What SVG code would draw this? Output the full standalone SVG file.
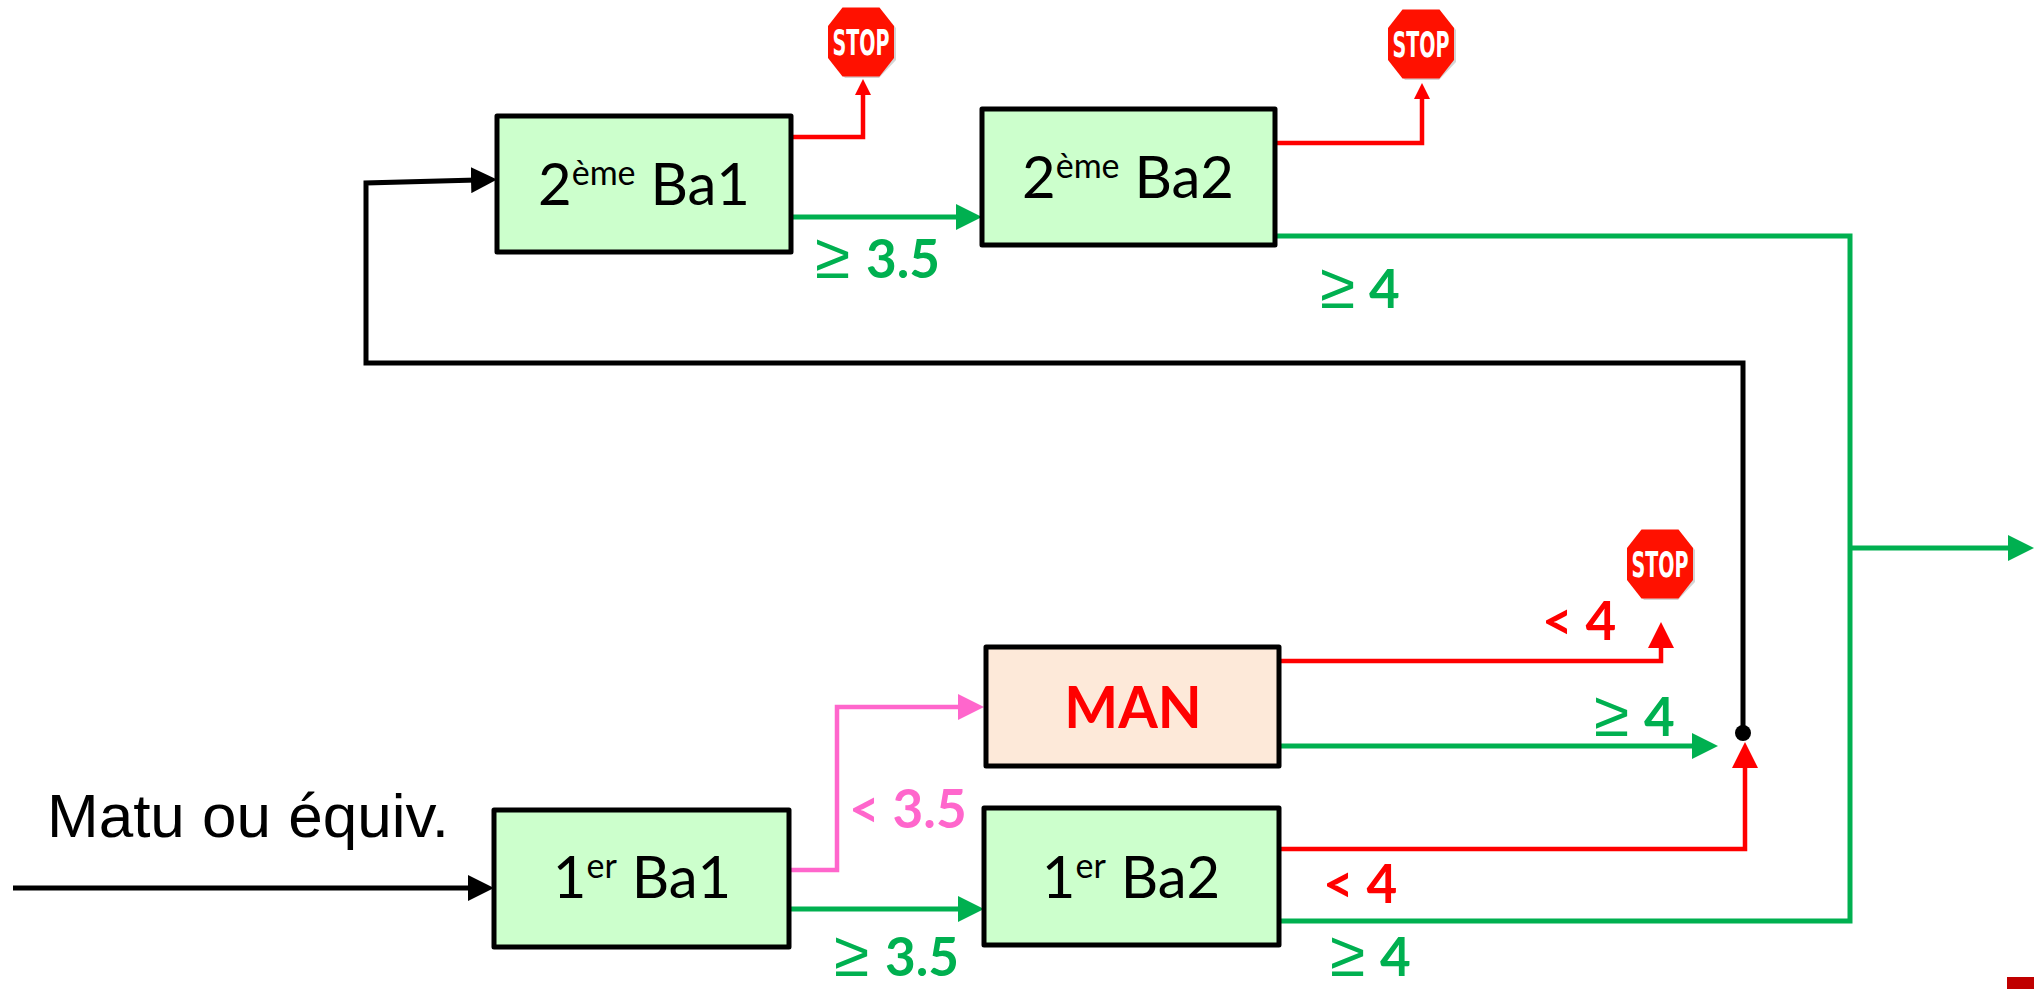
<svg xmlns="http://www.w3.org/2000/svg" width="2034" height="989" viewBox="0 0 2034 989">
<style>
.box{stroke:#000;stroke-width:5;stroke-linejoin:round}
.g{fill:#CCFFCC}
.man{fill:#FDE9D9}
.bt{font-family:Lato,"Liberation Sans",sans-serif;font-size:58px;fill:#000;text-anchor:middle}
.sup{font-size:34px}
.mant{font-family:Lato,"Liberation Sans",sans-serif;font-size:57px;font-weight:bold;fill:#FF0000;text-anchor:middle}
.lbl{font-family:Lato,"Liberation Sans",sans-serif;font-size:53px;font-weight:bold}
.ge{font-family:"Liberation Sans",Arial,sans-serif;font-size:64px;font-weight:normal}
.lg{fill:#00B050}.lr{fill:#FF0000}.lp{fill:#FF66CC}
.c{fill:none;stroke-linejoin:miter}
.ck{stroke:#000;stroke-width:5}
.cg{stroke:#00B050;stroke-width:5}
.cr{stroke:#FF0000;stroke-width:4.5}
.cp{stroke:#FF66CC;stroke-width:4.5}
.stopt{font-family:"DejaVu Sans Condensed","Liberation Sans",sans-serif;font-weight:bold;font-size:36px;fill:#fff;text-anchor:middle}
</style>
<defs>
<marker id="ak" markerUnits="userSpaceOnUse" markerWidth="26" markerHeight="26" refX="6" refY="13" orient="auto"><path d="M0,0 L26,13 L0,26 z" fill="#000"/></marker>
<marker id="ag" markerUnits="userSpaceOnUse" markerWidth="26" markerHeight="26" refX="6" refY="13" orient="auto"><path d="M0,0 L26,13 L0,26 z" fill="#00B050"/></marker>
<marker id="ar" markerUnits="userSpaceOnUse" markerWidth="26" markerHeight="26" refX="6" refY="13" orient="auto"><path d="M0,0 L26,13 L0,26 z" fill="#FF0000"/></marker>
<marker id="ap" markerUnits="userSpaceOnUse" markerWidth="26" markerHeight="26" refX="6" refY="13" orient="auto"><path d="M0,0 L26,13 L0,26 z" fill="#FF66CC"/></marker>
<marker id="ars" markerUnits="userSpaceOnUse" markerWidth="16" markerHeight="16" refX="4" refY="8" orient="auto"><path d="M0,0 L16,8 L0,16 z" fill="#FF0000"/></marker>
<g id="stop">
<polygon points="-16,-34 18,-34 35,-14 35,18 18,36 -16,36 -31,18 -31,-14" fill="#D4D4D4"/>
<polygon points="-18.5,-34.5 18.5,-34.5 33,-16 33,16 18.5,34.5 -18.5,34.5 -33,16 -33,-16" fill="#FF1100"/>
<text class="stopt" x="0" y="12.5" textLength="57" lengthAdjust="spacingAndGlyphs">STOP</text>
</g>
</defs>
<rect width="2034" height="989" fill="#fff"/>

<g id="connectors">
<path class="c ck" d="M13,888 H474" marker-end="url(#ak)"/>
<path class="c ck" d="M1743,733 V363 H366 V183 L477,180" marker-end="url(#ak)"/>
<path class="c cg" d="M792,217 H962" marker-end="url(#ag)"/>
<path class="c cg" d="M1275,236 H1850 V921 H1279"/>
<path class="c cg" d="M1850,548 H2014" marker-end="url(#ag)"/>
<path class="c cg" d="M789,909 H964" marker-end="url(#ag)"/>
<path class="c cg" d="M1278,746 H1698" marker-end="url(#ag)"/>
<path class="c cr" d="M790,137 H863 V91" marker-end="url(#ars)"/>
<path class="c cr" d="M1275,143 H1422 V95" marker-end="url(#ars)"/>
<path class="c cr" d="M1278,661 H1661 V642" marker-end="url(#ar)"/>
<path class="c cr" d="M1279,849 H1745 V762" marker-end="url(#ar)"/>
<path class="c cp" d="M789,870 H837 V707 H964" marker-end="url(#ap)"/>
<circle cx="1743" cy="733" r="8" fill="#000"/>
</g>

<g id="stop1"><use href="#stop" x="861" y="42"/></g>
<g id="stop2"><use href="#stop" x="1421" y="44"/></g>
<g id="stop3"><use href="#stop" x="1660" y="564"/></g>

<g id="node-2eme-ba1">
<rect class="box g" x="497" y="116" width="294" height="136"/>
<text class="bt" x="644" y="205">2<tspan class="sup" dy="-20">ème</tspan><tspan dy="20"> Ba1</tspan></text>
</g>
<g id="node-2eme-ba2">
<rect class="box g" x="982" y="109" width="293" height="136"/>
<text class="bt" x="1128" y="198">2<tspan class="sup" dy="-20">ème</tspan><tspan dy="20"> Ba2</tspan></text>
</g>
<g id="node-man">
<rect class="box man" x="986" y="647" width="293" height="119"/>
<text class="mant" x="1133" y="728">MAN</text>
</g>
<g id="node-1er-ba1">
<rect class="box g" x="494" y="810" width="295" height="137"/>
<text class="bt" x="642" y="898">1<tspan class="sup" dy="-20">er</tspan><tspan dy="20"> Ba1</tspan></text>
</g>
<g id="node-1er-ba2">
<rect class="box g" x="984" y="808" width="295" height="137"/>
<text class="bt" x="1131" y="898">1<tspan class="sup" dy="-20">er</tspan><tspan dy="20"> Ba2</tspan></text>
</g>

<g id="labels">
<text x="47" y="837" font-family="'Liberation Sans',Arial,sans-serif" font-size="62" fill="#000">Matu ou équiv.</text>
<text class="lbl lg" y="278"><tspan class="ge" x="815">≥</tspan><tspan x="866">3.5</tspan></text>
<text class="lbl lg" y="308"><tspan class="ge" x="1320">≥</tspan><tspan x="1369">4</tspan></text>
<text class="lbl lr" x="1542" y="640" font-size="55">&lt; 4</text>
<text class="lbl lg" y="736"><tspan class="ge" x="1594">≥</tspan><tspan x="1644">4</tspan></text>
<text class="lbl lp" x="849" y="828" font-size="55">&lt; 3.5</text>
<text class="lbl lr" x="1323" y="903" font-size="55">&lt; 4</text>
<text class="lbl lg" y="976"><tspan class="ge" x="834">≥</tspan><tspan x="885">3.5</tspan></text>
<text class="lbl lg" y="976"><tspan class="ge" x="1330">≥</tspan><tspan x="1380">4</tspan></text>
</g>
<rect x="2007" y="977" width="27" height="12" fill="#C00000"/>
</svg>
